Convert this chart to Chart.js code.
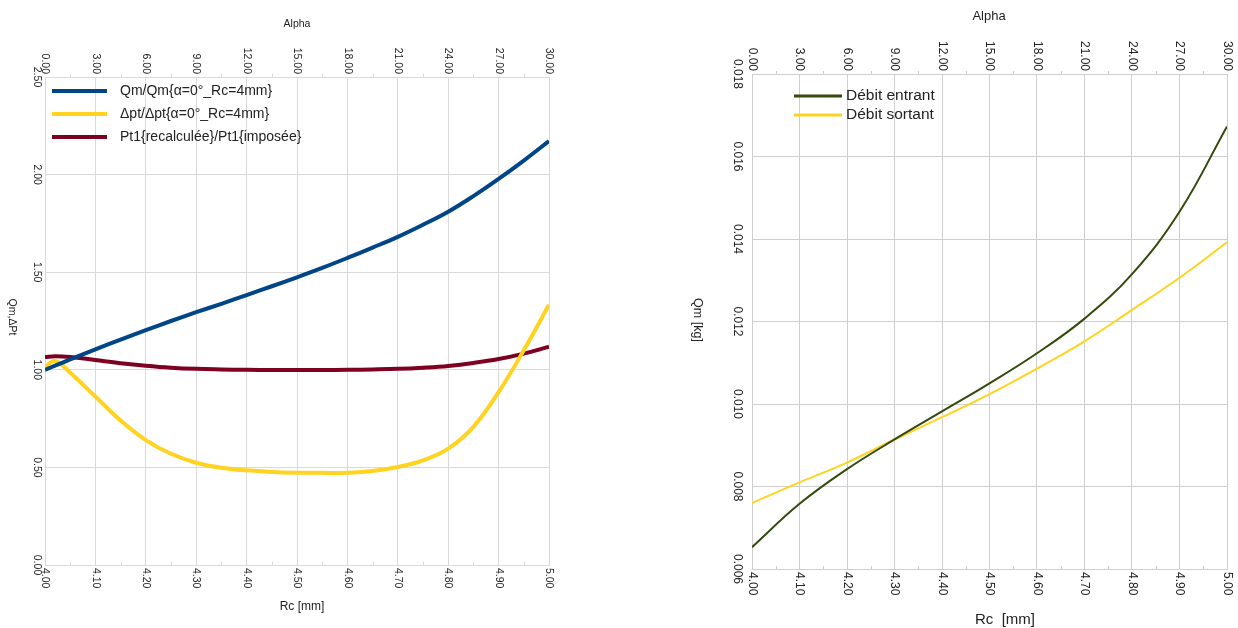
<!DOCTYPE html>
<html>
<head>
<meta charset="utf-8">
<script src="https://cdn.jsdelivr.net/npm/chart.js@4"></script>
<style>
  html, body { margin: 0; padding: 0; background: #fff; }
  #wrap { position: relative; width: 1238px; height: 628px; overflow: hidden; }
  canvas { position: absolute; top: 0; }
</style>
</head>
<body>
<div id="wrap">
  <canvas id="leftChart" width="620" height="628" style="left:0"></canvas>
  <canvas id="rightChart" width="618" height="628" style="left:620px"></canvas>
</div>
<script>
"use strict";

// ---- data ----
const rcLeft = [4.00, 4.02, 4.05, 4.10, 4.15, 4.20, 4.25, 4.30, 4.35, 4.40, 4.45, 4.50,
  4.55, 4.60, 4.65, 4.70, 4.75, 4.80, 4.85, 4.90, 4.95, 5.00];
const qmRatio = [1.000, 1.021, 1.053, 1.105, 1.155, 1.203, 1.250, 1.295, 1.338, 1.383, 1.428, 1.474,
  1.522, 1.573, 1.626, 1.681, 1.743, 1.810, 1.890, 1.978, 2.072, 2.172];
const dptRatio = [1.015, 1.045, 0.985, 0.863, 0.740, 0.640, 0.570, 0.524, 0.498, 0.485, 0.477, 0.473,
  0.472, 0.473, 0.482, 0.502, 0.536, 0.596, 0.708, 0.886, 1.100, 1.333];
const pt1Ratio = [1.065, 1.070, 1.066, 1.050, 1.034, 1.021, 1.011, 1.005, 1.002, 1.000, 0.999, 0.999,
  0.999, 1.000, 1.002, 1.005, 1.011, 1.020, 1.035, 1.055, 1.083, 1.118];

const rcRight = [4.00, 4.10, 4.20, 4.30, 4.40, 4.50, 4.60, 4.70, 4.80, 4.90, 5.00];
const debitEntrant = [0.00653, 0.00758, 0.00842, 0.00914, 0.00982, 0.01050, 0.01123, 0.01207, 0.01315, 0.01466, 0.01673];
const debitSortant = [0.00760, 0.00810, 0.00858, 0.00914, 0.00968, 0.01024, 0.01086, 0.01152, 0.01228, 0.01306, 0.01392];

const rcTickLabels = ["4.00", "4.10", "4.20", "4.30", "4.40", "4.50", "4.60", "4.70", "4.80", "4.90", "5.00"];
const alphaTickLabels = ["0.00", "3.00", "6.00", "9.00", "12.00", "15.00", "18.00", "21.00", "24.00", "27.00", "30.00"];
const leftYTickLabels = ["0.00", "0.50", "1.00", "1.50", "2.00", "2.50"];
const rightYTickLabels = ["0.006", "0.008", "0.010", "0.012", "0.014", "0.016", "0.018"];

const leftSeriesNames = ["Qm/Qm{α=0°_Rc=4mm}", "Δpt/Δpt{α=0°_Rc=4mm}", "Pt1{recalculée}/Pt1{imposée}"];
const rightSeriesNames = ["Débit entrant", "Débit sortant"];

const FONT = "'Liberation Sans', Arial, sans-serif";

function toPoints(xs, ys) {
  return xs.map((x, i) => ({ x: x, y: ys[i] }));
}

// draws rotated tick labels, titles, minor ticks and the legend
function makeTextPlugin(cfg) {
  return {
    id: "textPlugin",
    afterDraw(chart) {
      const ctx = chart.ctx;
      const a = chart.chartArea;
      const sx = chart.scales.x;
      const sy = chart.scales.y;
      const st = chart.scales.x2;
      ctx.save();
      ctx.fillStyle = cfg.textColor;

      // minor ticks
      ctx.strokeStyle = cfg.gridColor;
      ctx.lineWidth = 1;
      for (let i = 0; i < rcTickLabels.length - 1; i++) {
        const v = (parseFloat(rcTickLabels[i]) + parseFloat(rcTickLabels[i + 1])) / 2;
        const x = Math.round(sx.getPixelForValue(v)) + 0.5;
        ctx.beginPath();
        ctx.moveTo(x, a.bottom);
        ctx.lineTo(x, a.bottom - 3);
        ctx.moveTo(x, a.top);
        ctx.lineTo(x, a.top - 3);
        ctx.stroke();
      }

      ctx.font = cfg.tickSize + "px " + FONT;
      ctx.textBaseline = "middle";
      rcTickLabels.forEach((lbl) => {
        const x = sx.getPixelForValue(parseFloat(lbl));
        ctx.save();
        ctx.translate(x, a.bottom + cfg.tickGap);
        ctx.rotate(Math.PI / 2);
        ctx.textAlign = "left";
        ctx.fillText(lbl, 0, 0);
        ctx.restore();
      });
      alphaTickLabels.forEach((lbl) => {
        const x = st.getPixelForValue(parseFloat(lbl));
        ctx.save();
        ctx.translate(x, a.top - cfg.tickGap);
        ctx.rotate(Math.PI / 2);
        ctx.textAlign = "right";
        ctx.fillText(lbl, 0, 0);
        ctx.restore();
      });
      cfg.yLabels.forEach((lbl) => {
        const y = sy.getPixelForValue(parseFloat(lbl));
        ctx.save();
        ctx.translate(cfg.yLabelX, y);
        ctx.rotate(Math.PI / 2);
        ctx.textAlign = "center";
        ctx.fillText(lbl, 0, 0);
        ctx.restore();
      });

      // titles
      ctx.textAlign = "center";
      ctx.font = cfg.alphaTitle.size + "px " + FONT;
      ctx.fillText("Alpha", cfg.alphaTitle.x, cfg.alphaTitle.y);
      ctx.font = cfg.rcTitle.size + "px " + FONT;
      ctx.fillText(cfg.rcTitle.text, cfg.rcTitle.x, cfg.rcTitle.y);
      ctx.save();
      ctx.font = cfg.yTitle.size + "px " + FONT;
      ctx.translate(cfg.yTitle.x, cfg.yTitle.y);
      ctx.rotate(Math.PI / 2);
      ctx.fillText(cfg.yTitle.text, 0, 0);
      ctx.restore();

      // legend
      ctx.font = cfg.legend.size + "px " + FONT;
      ctx.textAlign = "left";
      chart.data.datasets.forEach((ds, i) => {
        const y = cfg.legend.y0 + i * cfg.legend.step;
        ctx.strokeStyle = ds.borderColor;
        ctx.lineWidth = cfg.legend.lineWidth;
        ctx.beginPath();
        ctx.moveTo(cfg.legend.x0, y);
        ctx.lineTo(cfg.legend.x1, y);
        ctx.stroke();
        ctx.fillStyle = cfg.textColor;
        ctx.fillText(ds.label, cfg.legend.textX, y);
      });
      ctx.restore();
    },
  };
}

function makeChart(id, cfg) {
  const canvas = document.getElementById(id);
  return new Chart(canvas.getContext("2d"), {
    type: "line",
    data: { datasets: cfg.datasets },
    options: {
      responsive: false,
      animation: false,
      devicePixelRatio: 1,
      layout: { padding: cfg.padding },
      elements: { point: { radius: 0 }, line: { tension: 0.4 } },
      plugins: { legend: { display: false }, tooltip: { enabled: false } },
      scales: {
        x: {
          type: "linear",
          min: 4,
          max: 5,
          ticks: { display: false, stepSize: 0.1 },
          grid: { color: cfg.gridColor, drawTicks: false },
          border: { color: cfg.gridColor },
        },
        x2: {
          type: "linear",
          position: "top",
          min: 0,
          max: 30,
          ticks: { display: false, stepSize: 3 },
          grid: { display: false, drawTicks: false },
          border: { color: cfg.gridColor },
        },
        y: {
          type: "linear",
          min: cfg.yMin,
          max: cfg.yMax,
          ticks: { display: false, stepSize: cfg.yStep },
          grid: { color: cfg.gridColor, drawTicks: false },
          border: { color: cfg.gridColor },
        },
      },
    },
    plugins: [makeTextPlugin(cfg)],
  });
}

makeChart("leftChart", {
  padding: { left: 45, right: 71, top: 77, bottom: 63 },
  gridColor: "#dadada",
  textColor: "#222222",
  yMin: 0,
  yMax: 2.5,
  yStep: 0.5,
  yLabels: leftYTickLabels,
  yLabelX: 37,
  tickSize: 10.5,
  tickGap: 3,
  alphaTitle: { x: 297, y: 24, size: 10.5 },
  rcTitle: { text: "Rc [mm]", x: 302, y: 607, size: 12 },
  yTitle: { text: "Qm,ΔPt", x: 12, y: 317, size: 10.5 },
  legend: { x0: 52, x1: 107, textX: 120, y0: 91, step: 23, lineWidth: 4, size: 14 },
  datasets: [
    { label: leftSeriesNames[0], data: toPoints(rcLeft, qmRatio), borderColor: "#004586", borderWidth: 4 },
    { label: leftSeriesNames[1], data: toPoints(rcLeft, dptRatio), borderColor: "#ffd320", borderWidth: 4 },
    { label: leftSeriesNames[2], data: toPoints(rcLeft, pt1Ratio), borderColor: "#7e0021", borderWidth: 4 },
  ],
});

makeChart("rightChart", {
  padding: { left: 132, right: 11, top: 74, bottom: 59 },
  gridColor: "#cfcfcf",
  textColor: "#222222",
  yMin: 0.006,
  yMax: 0.018,
  yStep: 0.002,
  yLabels: rightYTickLabels,
  yLabelX: 117,
  tickSize: 12,
  tickGap: 3,
  alphaTitle: { x: 369, y: 16, size: 13 },
  rcTitle: { text: "Rc  [mm]", x: 385, y: 620, size: 15 },
  yTitle: { text: "Qm [kg]", x: 77, y: 320, size: 12.5 },
  legend: { x0: 174, x1: 222, textX: 226, y0: 96, step: 19, lineWidth: 3, size: 15.5 },
  datasets: [
    { label: rightSeriesNames[0], data: toPoints(rcRight, debitEntrant), borderColor: "#344a0c", borderWidth: 2 },
    { label: rightSeriesNames[1], data: toPoints(rcRight, debitSortant), borderColor: "#ffd320", borderWidth: 2 },
  ],
});
</script>
</body>
</html>
